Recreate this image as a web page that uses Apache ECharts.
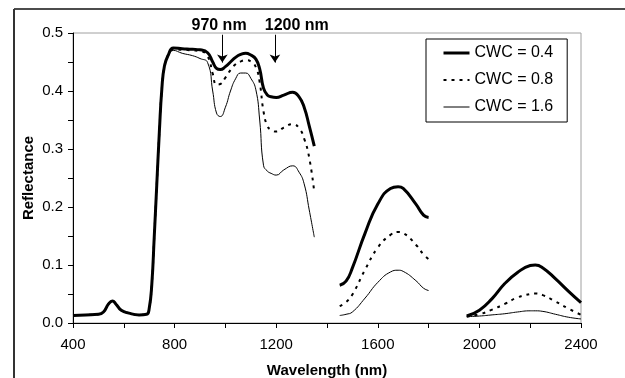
<!DOCTYPE html>
<html>
<head>
<meta charset="utf-8">
<script src="https://cdn.jsdelivr.net/npm/echarts@6/dist/echarts.min.js"></script>
<style>
  html, body { margin: 0; padding: 0; background: #fff; }
  #chart { width: 625px; height: 378px; }
</style>
</head>
<body>
<div id="chart"></div>
<script>
// wavelength grid (nm); null values break the line at the water absorption gaps
const wavelengths = [
  400, 450, 500, 520, 540, 555, 570, 590, 620, 660,
  690, 700, 710, 720, 730, 740, 750, 760, 775, 795,
  830, 870, 900, 930, 950, 965, 980, 1000, 1020, 1040,
  1060, 1080, 1100, 1120, 1135, 1150, 1165, 1180, 1200, 1230,
  1265, 1290, 1310, 1330, 1350, 1400, 1450, 1475, 1500, 1550,
  1600, 1650, 1680, 1700, 1750, 1780, 1800, 1875, 1950, 2000,
  2050, 2100, 2150, 2200, 2220, 2250, 2300, 2350, 2400
];

const cwc04 = [
  0.013, 0.014, 0.015, 0.019, 0.033, 0.038, 0.032, 0.022, 0.017, 0.014,
  0.015, 0.025, 0.065, 0.150, 0.240, 0.330, 0.405, 0.443, 0.462, 0.474,
  0.473, 0.472, 0.471, 0.466, 0.450, 0.439, 0.437, 0.442, 0.450, 0.458,
  0.463, 0.465, 0.462, 0.455, 0.438, 0.405, 0.393, 0.390, 0.389, 0.393,
  0.398, 0.390, 0.372, 0.340, 0.305, null, 0.065, 0.072, 0.095, 0.155,
  0.205, 0.232, 0.235, 0.232, 0.205, 0.186, 0.182, null, 0.012, 0.022,
  0.042, 0.068, 0.087, 0.099, 0.100, 0.095, 0.076, 0.055, 0.035
];

const cwc08 = [
  0.013, 0.014, 0.015, 0.019, 0.033, 0.038, 0.032, 0.022, 0.017, 0.014,
  0.015, 0.025, 0.065, 0.150, 0.240, 0.330, 0.405, 0.443, 0.462, 0.472,
  0.471, 0.470, 0.469, 0.460, 0.430, 0.411, 0.412, 0.423, 0.436, 0.446,
  0.451, 0.453, 0.451, 0.441, 0.415, 0.365, 0.340, 0.333, 0.330, 0.337,
  0.343, 0.336, 0.318, 0.285, 0.225, null, 0.029, 0.036, 0.049, 0.092,
  0.130, 0.152, 0.157, 0.155, 0.135, 0.118, 0.110, null, 0.011, 0.015,
  0.023, 0.033, 0.044, 0.050, 0.051, 0.048, 0.037, 0.025, 0.014
];

const cwc16 = [
  0.013, 0.014, 0.015, 0.019, 0.033, 0.038, 0.032, 0.022, 0.017, 0.014,
  0.015, 0.025, 0.065, 0.150, 0.240, 0.330, 0.405, 0.443, 0.460, 0.470,
  0.465, 0.461, 0.456, 0.449, 0.400, 0.362, 0.356, 0.372, 0.400, 0.421,
  0.431, 0.431, 0.422, 0.402, 0.350, 0.272, 0.262, 0.258, 0.255, 0.264,
  0.271, 0.260, 0.240, 0.195, 0.148, null, 0.013, 0.015, 0.019, 0.043,
  0.070, 0.088, 0.091, 0.089, 0.073, 0.060, 0.056, null, 0.011, 0.012,
  0.014, 0.016, 0.019, 0.021, 0.021, 0.020, 0.015, 0.010, 0.007
];

const seriesNames = ['CWC = 0.4', 'CWC = 0.8', 'CWC = 1.6'];

// absorption feature markers: arrow wavelength and label text
const arrowNames = ['970 nm', '1200 nm'];
const arrowWavelengths = [988, 1195];
const labelWavelengths = [975, 1281];

const pairs = (vals) => wavelengths.map((w, i) => [w, vals[i]]);

const font = 'Arial, "Liberation Sans", sans-serif';

const chart = echarts.init(document.getElementById('chart'));

chart.setOption({
  animation: false,
  grid: {
    left: 73,
    top: 33,
    right: 44,
    bottom: 55,
    outerBoundsMode: 'none',
    containLabel: false,
    show: true,
    borderColor: '#a0a0a0',
    borderWidth: 1,
  },
  legend: {
    data: seriesNames,
    orient: 'vertical',
    left: 426,
    top: 39,
    padding: [6, 14, 7, 16],
    itemWidth: 26,
    itemHeight: 14,
    itemGap: 11,
    borderColor: '#000',
    borderWidth: 1,
    lineStyle: { width: 'inherit', type: 'inherit' },
    // hide the marker circle, keep the line sample
    itemStyle: { color: 'rgba(0,0,0,0)', borderColor: 'rgba(0,0,0,0)', borderWidth: 0, opacity: 0 },
    textStyle: { fontFamily: font, fontSize: 16, color: '#000' },
  },
  xAxis: {
    type: 'value',
    min: 400,
    max: 2400,
    interval: 200,
    name: 'Wavelength (nm)',
    nameLocation: 'middle',
    nameGap: 40,
    nameMoveOverlap: false,
    nameTextStyle: { fontFamily: font, fontSize: 15, fontWeight: 'bold', color: '#000' },
    axisLine: { lineStyle: { color: '#000', width: 1 } },
    axisTick: { length: 5, lineStyle: { color: '#000' } },
    axisLabel: {
      margin: 14,
      fontFamily: font,
      fontSize: 15,
      color: '#000',
      formatter: (v) => (v % 400 === 0 ? String(v) : ''),
    },
    splitLine: { show: false },
  },
  yAxis: {
    type: 'value',
    min: 0,
    max: 0.5,
    interval: 0.05,
    name: 'Reflectance',
    nameLocation: 'middle',
    nameGap: 37,
    nameMoveOverlap: false,
    nameTextStyle: { fontFamily: font, fontSize: 15, fontWeight: 'bold', color: '#000' },
    axisLine: { show: true, lineStyle: { color: '#000', width: 1 } },
    axisTick: { show: true, length: 5, lineStyle: { color: '#000' } },
    axisLabel: {
      margin: 10,
      fontFamily: font,
      fontSize: 15,
      color: '#000',
      formatter: (v) => (Math.round(v * 100) % 10 === 0 ? v.toFixed(1) : ''),
    },
    splitLine: { show: false },
  },
  series: [
    {
      name: seriesNames[0],
      type: 'line',
      data: pairs(cwc04),
      symbol: 'none',
      smooth: 0.5,
      connectNulls: false,
      lineStyle: { color: '#000', width: 3 },
      itemStyle: { color: '#000' },
      markLine: {
        silent: true,
        symbol: ['none', 'arrow'],
        symbolSize: 8,
        label: { show: false },
        lineStyle: { color: '#000', width: 1, type: 'solid' },
        data: arrowWavelengths.map((w) => [
          { coord: [w, 0.497] },
          { coord: [w, 0.449] },
        ]),
      },
    },
    {
      name: seriesNames[1],
      type: 'line',
      data: pairs(cwc08),
      symbol: 'none',
      smooth: 0.5,
      connectNulls: false,
      lineStyle: { color: '#000', width: 2, type: [3, 5] },
      itemStyle: { color: '#000' },
    },
    {
      name: seriesNames[2],
      type: 'line',
      data: pairs(cwc16),
      symbol: 'none',
      smooth: 0.5,
      connectNulls: false,
      lineStyle: { color: '#000', width: 1 },
      itemStyle: { color: '#000' },
    },
  ],
});

// frame lines and the feature labels above the plot
const graphics = [
  { type: 'line', shape: { x1: 14, y1: 9, x2: 625, y2: 9 }, style: { stroke: '#111', lineWidth: 1.5 } },
  { type: 'line', shape: { x1: 14, y1: 9, x2: 14, y2: 378 }, style: { stroke: '#333', lineWidth: 2 } },
];
arrowNames.forEach((name, i) => {
  const p = chart.convertToPixel({ gridIndex: 0 }, [labelWavelengths[i], 0.513]);
  graphics.push({
    type: 'text',
    x: p[0],
    y: p[1],
    style: {
      text: name,
      fontFamily: font,
      fontSize: 16,
      fontWeight: 'bold',
      fill: '#000',
      align: 'center',
      verticalAlign: 'middle',
    },
  });
});
chart.setOption({ graphic: graphics });
</script>
</body>
</html>
